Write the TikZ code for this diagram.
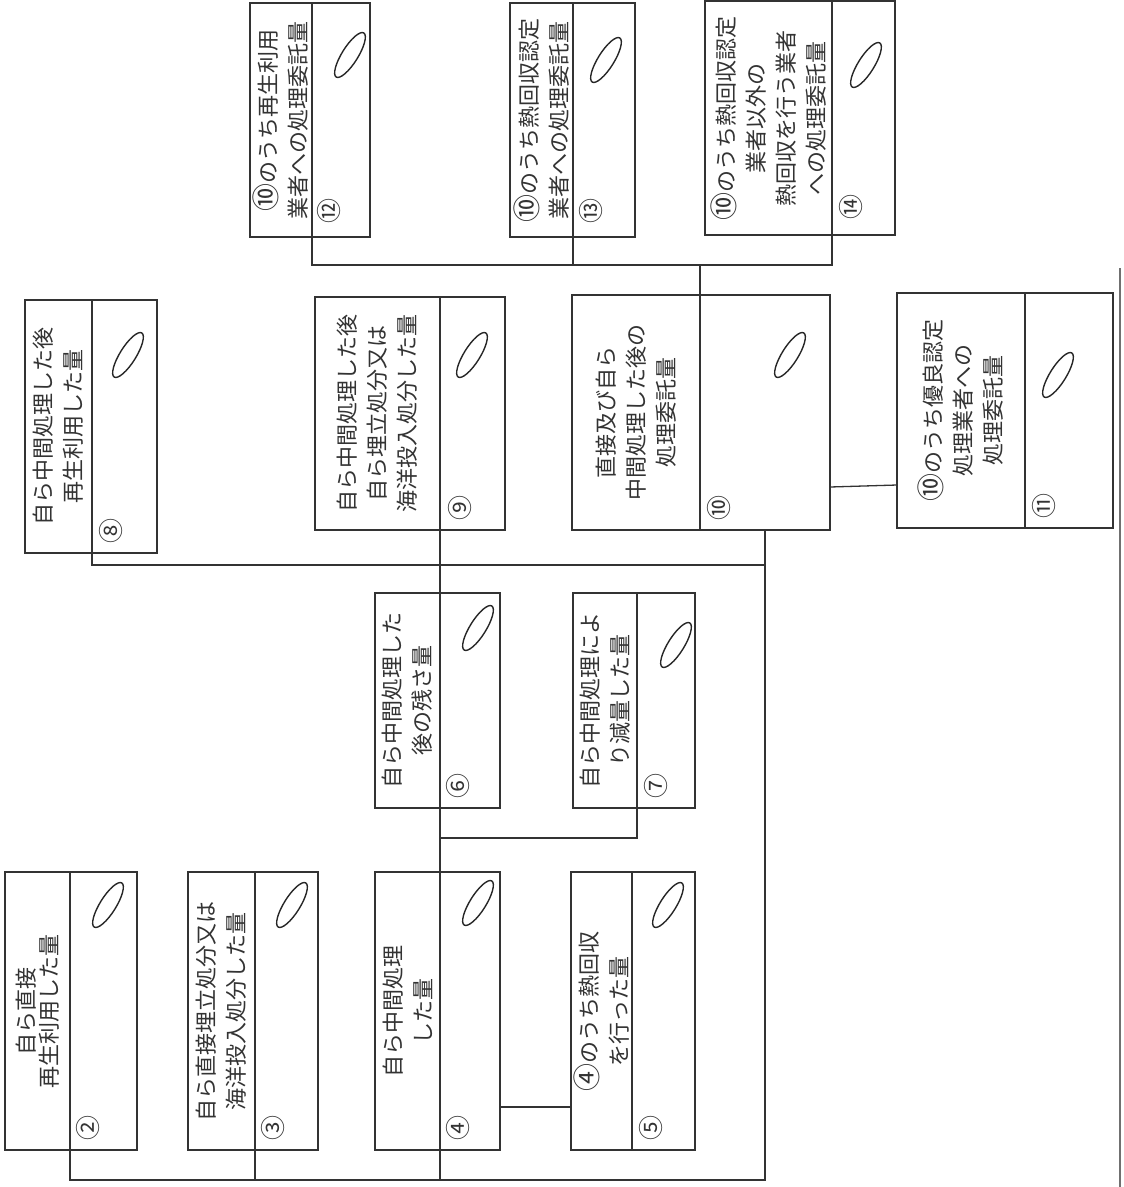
\documentclass[tikz,border=0pt]{standalone}
\usepackage{fontspec}
\setmainfont{Noto Sans CJK JP}
\definecolor{ink}{HTML}{333333}
\tikzset{
  part/.style={draw=ink, line width=1.3pt, inner sep=0pt, outer sep=0pt, anchor=north west},
  txt/.style={rotate=90, align=center, inner sep=0pt, text=ink, font=\fontsize{22}{30}\selectfont},
  num/.style={rotate=90, inner sep=0pt, text=ink, font=\fontsize{25}{25}\selectfont},
  conn/.style={draw=ink, line width=1.3pt},
  scr/.style={draw=black!85, line width=1.4pt}
}
\newcommand\Bx[6]{%
  \node[part, minimum width={#4-#2}, minimum height={#6-#3}] (#1l) at (#2,#3) {};
  \node[part, minimum width={#5-#4}, minimum height={#6-#3}] (#1v) at (#4,#3) {};
}
\newcommand\Scr[2]{\draw[scr, rotate around={58:(#1,#2)}] (#1,#2) ellipse (26pt and 8pt);}
\newcommand\Cn[1]{{\fontsize{28}{30}\selectfont #1}}
\begin{document}
\begin{tikzpicture}[x=1pt,y=-1pt]
\useasboundingbox (0,0) rectangle (1124,1187);
% boxes: name, left, top, divider, right, bottom
\Bx{b2}{5}{872}{70}{137}{1150}
\Bx{b3}{188}{872}{255}{318}{1150}
\Bx{b4}{375}{872}{440}{500}{1150}
\Bx{b5}{571}{872}{632}{695}{1150}
\Bx{b6}{375}{593}{440}{500}{808}
\Bx{b7}{573}{593}{637}{695}{808}
\Bx{b8}{25}{300}{92}{157}{553}
\Bx{b9}{315}{297}{440}{505}{530}
\Bx{b10}{572}{295}{700}{830}{530}
\Bx{b11}{897}{293}{1025}{1113}{528}
\Bx{b12}{250}{3}{312}{370}{237}
\Bx{b13}{510}{3}{573}{635}{237}
\Bx{b14}{705}{1}{832}{895}{235}
% texts
\node[txt, font=\fontsize{22}{23}\selectfont] (t2) at (b2l.center) {自ら直接\\再生利用した量};
\node[txt] (t3) at (b3l.center) {自ら直接埋立処分又は\\海洋投入処分した量};
\node[txt] (t4) at (b4l.center) {自ら中間処理\\した量};
\node[txt] (t5) at (b5l.center) {\Cn{④}のうち熱回収\\を行った量};
\node[txt] (t6) at (b6l.center) {自ら中間処理した\\後の残さ量};
\node[txt] (t7) at (b7l.center) {自ら中間処理によ\\り減量した量};
\node[txt] (t8) at (b8l.center) {自ら中間処理した後\\再生利用した量};
\node[txt] (t9) at (b9l.center) {自ら中間処理した後\\自ら埋立処分又は\\海洋投入処分した量};
\node[txt] (t10) at (b10l.center) {直接及び自ら\\中間処理した後の\\処理委託量};
\node[txt] (t11) at (b11l.center) {\Cn{⑩}のうち優良認定\\処理業者への\\処理委託量};
\node[txt] (t12) at (b12l.center) {\Cn{⑩}のうち再生利用\\業者への処理委託量};
\node[txt] (t13) at (b13l.center) {\Cn{⑩}のうち熱回収認定\\業者への処理委託量};
\node[txt] (t14) at (b14l.center) {\Cn{⑩}のうち熱回収認定\\業者以外の\\熱回収を行う業者\\への処理委託量};
% numbers
\node[num] (n2) at ([xshift=18,yshift=22]b2v.south west) {②};
\node[num] (n3) at ([xshift=18,yshift=22]b3v.south west) {③};
\node[num] (n4) at ([xshift=18,yshift=22]b4v.south west) {④};
\node[num] (n5) at ([xshift=19,yshift=22]b5v.south west) {⑤};
\node[num] (n6) at ([xshift=18,yshift=22]b6v.south west) {⑥};
\node[num] (n7) at ([xshift=19,yshift=22]b7v.south west) {⑦};
\node[num] (n8) at ([xshift=19,yshift=22]b8v.south west) {⑧};
\node[num] (n9) at ([xshift=20,yshift=22]b9v.south west) {⑨};
\node[num] (n10) at ([xshift=19,yshift=22]b10v.south west) {⑩};
\node[num] (n11) at ([xshift=19,yshift=22]b11v.south west) {⑪};
\node[num] (n12) at ([xshift=17,yshift=26]b12v.south west) {⑫};
\node[num] (n13) at ([xshift=18,yshift=26]b13v.south west) {⑬};
\node[num] (n14) at ([xshift=19,yshift=28]b14v.south west) {⑭};
% handwritten marks
\Scr{108}{905}
\Scr{292}{905}
\Scr{478}{903}
\Scr{668}{905}
\Scr{478}{628}
\Scr{676}{645}
\Scr{128}{355}
\Scr{472}{355}
\Scr{790}{355}
\Scr{1058}{375}
\Scr{350}{55}
\Scr{606}{60}
\Scr{866}{65}
% connectors
\coordinate (bbus) at (b10v.south |- 0,1180);
\draw[conn] (b2v.south west) |- (bbus) -- (b10v.south);
\draw[conn] (b3v.south west) -- (b3v.south west |- bbus);
\draw[conn] (b9v.south west) -- (b9v.south west |- bbus);
\draw[conn] ([yshift=43]b4v.south east) -- ([yshift=43]b5l.south west);
\draw[conn] (b7v.south west) |- (b6v.south west |- 0,838);
\draw[conn] (b8v.south west) |- (b10v.south |- 0,565);
\draw[conn] ([yshift=43]b10v.south east) -- ([yshift=43]b11l.south west);
\draw[conn] (b12v.south west) |- (b14v.south west |- 0,265) -- (b14v.south west);
\draw[conn] (b13v.south west) -- (b13v.south west |- 0,265);
\draw[conn] (b10v.north west) -- (b10v.north west |- 0,265);
% page edge
\draw[conn, draw=ink!70] (1120,268) -- (1120,1187);
\end{tikzpicture}
\end{document}
